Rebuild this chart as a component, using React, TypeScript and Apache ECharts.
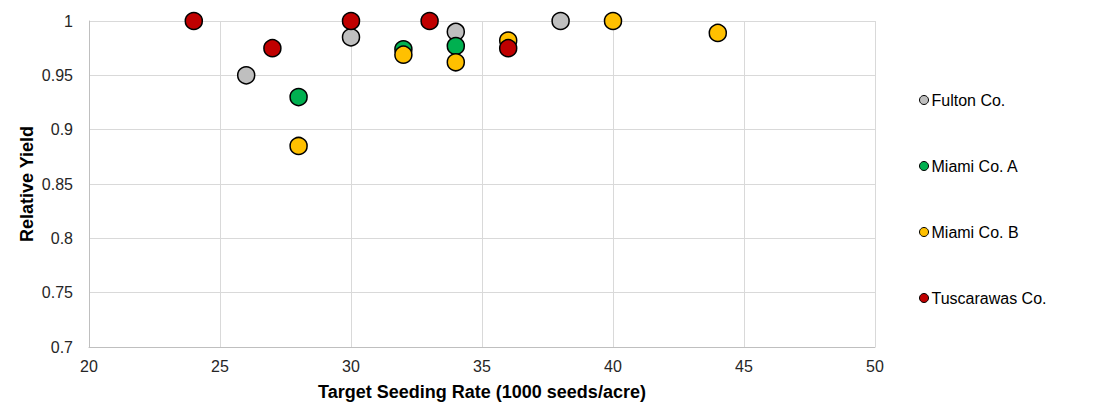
import React, { useEffect, useRef } from "react";
import * as echarts from "echarts";

const seriesNames = ["Fulton Co.", "Miami Co. A", "Miami Co. B", "Tuscarawas Co."];
const seriesColors = ["#BFBFBF", "#00B050", "#FFC000", "#C00000"];

const fultonData: [number, number][] = [
  [26, 0.95],
  [30, 0.985],
  [34, 0.99],
  [38, 1.0],
];
const miamiAData: [number, number][] = [
  [28, 0.93],
  [32, 0.974],
  [34, 0.977],
];
const miamiBData: [number, number][] = [
  [28, 0.885],
  [32, 0.969],
  [34, 0.962],
  [36, 0.982],
  [40, 1.0],
  [44, 0.989],
];
const tuscarawasData: [number, number][] = [
  [24, 1.0],
  [27, 0.975],
  [30, 1.0],
  [33, 1.0],
  [36, 0.975],
];

const allData = [fultonData, miamiAData, miamiBData, tuscarawasData];

const xTitle = "Target Seeding Rate (1000 seeds/acre)";
const yTitle = "Relative Yield";

export default function App() {
  const ref = useRef<HTMLDivElement>(null);
  useEffect(() => {
    document.body.style.margin = "0";
    const chart = echarts.init(ref.current!, undefined, { renderer: "svg" });
    const font = "Arial, 'Liberation Sans', sans-serif";
    chart.setOption({
      animation: false,
      textStyle: { fontFamily: font },
      grid: { left: 89, right: 220, top: 21, bottom: 68, containLabel: false },
      legend: {
        orient: "vertical",
        left: 919,
        top: 92,
        padding: 0,
        itemGap: 50,
        itemWidth: 9,
        itemHeight: 9,
        icon: "circle",
        textStyle: { fontSize: 16, color: "#000", fontFamily: font, padding: [0, 0, 0, -2] },
        data: seriesNames.map((n, i) => ({
          name: n,
          itemStyle: { color: seriesColors[i], borderColor: "#000", borderWidth: 1 },
        })),
      },
      xAxis: {
        type: "value",
        min: 20,
        max: 50,
        interval: 5,
        name: xTitle,
        nameLocation: "middle",
        nameGap: 36,
        nameMoveOverlap: false,
        nameTextStyle: { fontSize: 18, fontWeight: "bold", color: "#000", fontFamily: font },
        axisLine: { show: true, lineStyle: { color: "#BFBFBF", width: 1 } },
        axisTick: { show: false },
        axisLabel: { fontSize: 16, color: "#262626", margin: 11, fontFamily: font },
        splitLine: { show: true, lineStyle: { color: "#D9D9D9", width: 1 } },
      },
      yAxis: {
        type: "value",
        min: 0.7,
        max: 1,
        interval: 0.05,
        name: yTitle,
        nameLocation: "middle",
        nameGap: 53,
        nameMoveOverlap: false,
        nameRotate: 90,
        nameTextStyle: { fontSize: 18, fontWeight: "bold", color: "#000", fontFamily: font },
        axisLine: { show: true, lineStyle: { color: "#BFBFBF", width: 1 } },
        axisTick: { show: false },
        axisLabel: {
          fontSize: 16,
          color: "#262626",
          margin: 16,
          fontFamily: font,
          formatter: (v: number) => String(parseFloat(v.toFixed(2))),
        },
        splitLine: { show: true, lineStyle: { color: "#D9D9D9", width: 1 } },
      },
      series: seriesNames.map((name, i) => ({
        name,
        type: "scatter",
        data: allData[i],
        symbol: "circle",
        symbolSize: 17,
        itemStyle: { color: seriesColors[i], borderColor: "#000", borderWidth: 1.5, opacity: 1 },
        z: 2 + i,
      })),
    });
    return () => chart.dispose();
  }, []);
  return <div ref={ref} style={{ width: 1095, height: 415 }} />;
}
